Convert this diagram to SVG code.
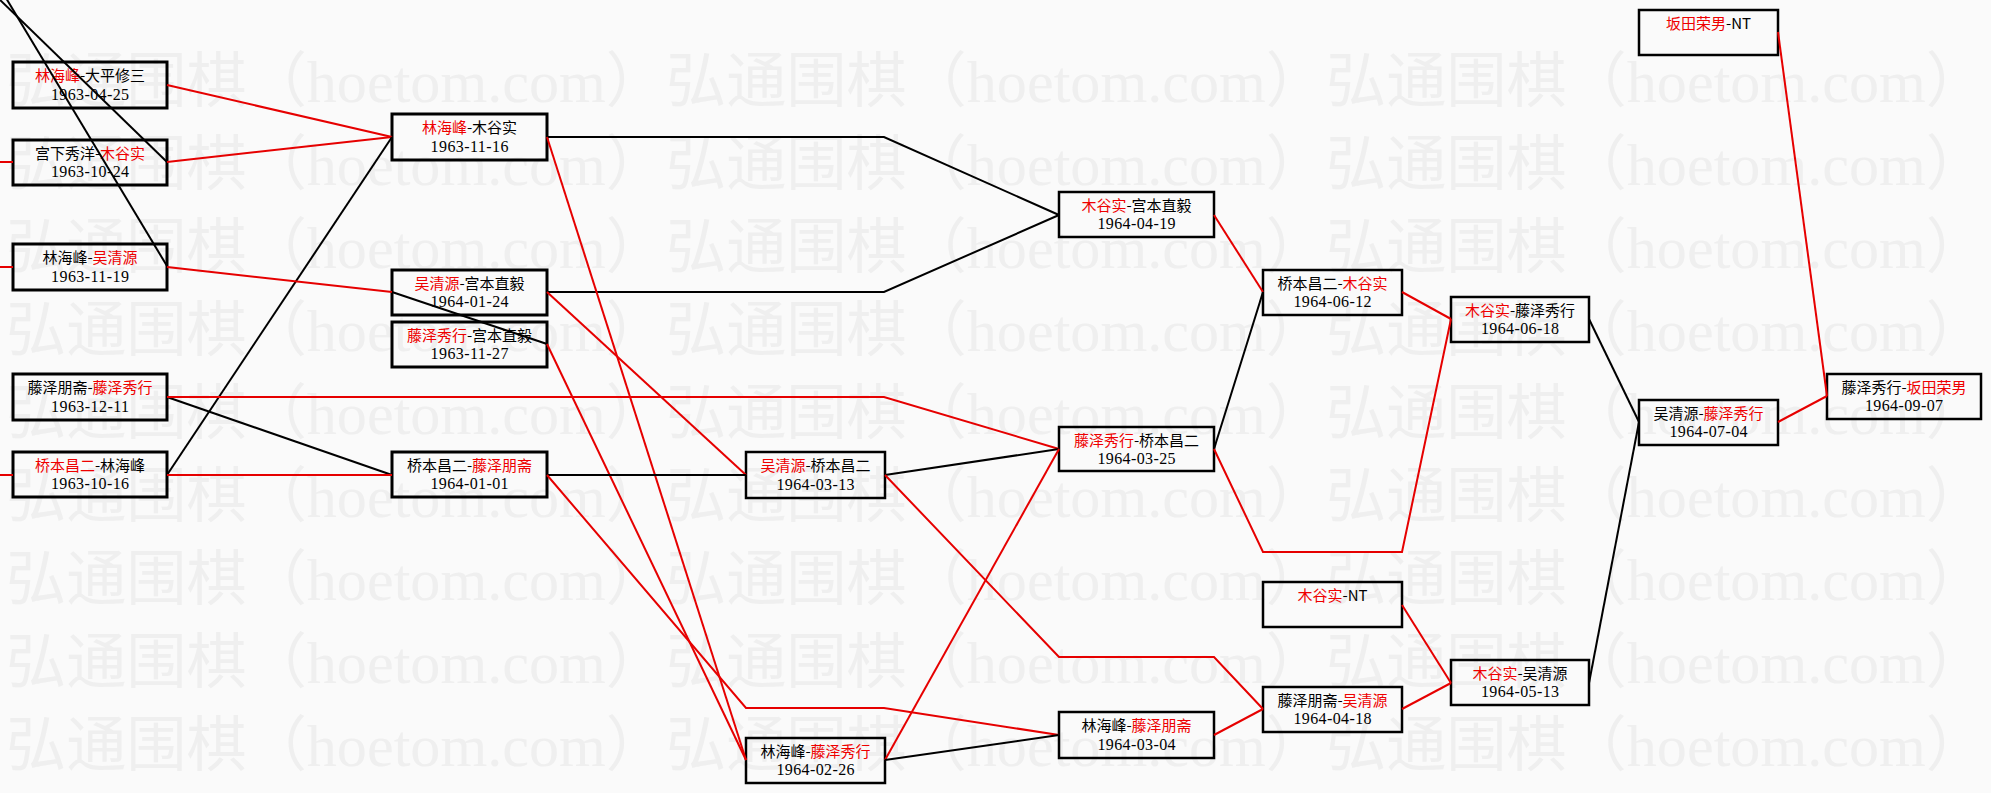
<svg xmlns="http://www.w3.org/2000/svg" width="1991" height="793" viewBox="0 0 1991 793">
<style>
.bg{fill:#fafafa}
.wm{font-family:"Liberation Serif","Noto Sans CJK SC",serif;font-size:60px;fill:#efefef}
.box{fill:none;stroke:#000;stroke-width:3}
.box2{fill:none;stroke:#000;stroke-width:2.5}
.t1{font-family:"Noto Sans CJK SC","Noto Sans",sans-serif;font-size:15px;fill:#000;text-anchor:middle}
.t2{font-family:"Liberation Serif",serif;font-size:16px;fill:#000;text-anchor:middle}
.r{fill:#ee0000}
.cr{fill:none;stroke:#e60000;stroke-width:2}
.cb{fill:none;stroke:#000;stroke-width:2}
</style>
<rect class="bg" x="0" y="0" width="1991" height="793"/>
<g id="watermark">
<text class="wm" x="6" y="102" textLength="1980" lengthAdjust="spacingAndGlyphs">弘通围棋（hoetom.com）弘通围棋（hoetom.com）弘通围棋（hoetom.com）</text>
<text class="wm" x="6" y="185" textLength="1980" lengthAdjust="spacingAndGlyphs">弘通围棋（hoetom.com）弘通围棋（hoetom.com）弘通围棋（hoetom.com）</text>
<text class="wm" x="6" y="268" textLength="1980" lengthAdjust="spacingAndGlyphs">弘通围棋（hoetom.com）弘通围棋（hoetom.com）弘通围棋（hoetom.com）</text>
<text class="wm" x="6" y="351" textLength="1980" lengthAdjust="spacingAndGlyphs">弘通围棋（hoetom.com）弘通围棋（hoetom.com）弘通围棋（hoetom.com）</text>
<text class="wm" x="6" y="434" textLength="1980" lengthAdjust="spacingAndGlyphs">弘通围棋（hoetom.com）弘通围棋（hoetom.com）弘通围棋（hoetom.com）</text>
<text class="wm" x="6" y="517" textLength="1980" lengthAdjust="spacingAndGlyphs">弘通围棋（hoetom.com）弘通围棋（hoetom.com）弘通围棋（hoetom.com）</text>
<text class="wm" x="6" y="600" textLength="1980" lengthAdjust="spacingAndGlyphs">弘通围棋（hoetom.com）弘通围棋（hoetom.com）弘通围棋（hoetom.com）</text>
<text class="wm" x="6" y="683" textLength="1980" lengthAdjust="spacingAndGlyphs">弘通围棋（hoetom.com）弘通围棋（hoetom.com）弘通围棋（hoetom.com）</text>
<text class="wm" x="6" y="766" textLength="1980" lengthAdjust="spacingAndGlyphs">弘通围棋（hoetom.com）弘通围棋（hoetom.com）弘通围棋（hoetom.com）</text>
</g>

<g id="nA"><rect class="box" x="13" y="62" width="154" height="46"/><text class="t1" x="90" y="81"><tspan class="r">林海峰</tspan>-大平修三</text><text class="t2" x="90" y="100" textLength="78">1963-04-25</text></g>
<g id="nB"><rect class="box" x="13" y="140" width="154" height="45"/><text class="t1" x="90" y="159">宫下秀洋-<tspan class="r">木谷实</tspan></text><text class="t2" x="90" y="177" textLength="78">1963-10-24</text></g>
<g id="nC"><rect class="box" x="13" y="244" width="154" height="46"/><text class="t1" x="90" y="263">林海峰-<tspan class="r">吴清源</tspan></text><text class="t2" x="90" y="282" textLength="78">1963-11-19</text></g>
<g id="nD"><rect class="box" x="13" y="374" width="154" height="46"/><text class="t1" x="90" y="393">藤泽朋斋-<tspan class="r">藤泽秀行</tspan></text><text class="t2" x="90" y="412" textLength="78">1963-12-11</text></g>
<g id="nE"><rect class="box" x="13" y="452" width="154" height="45"/><text class="t1" x="90" y="471"><tspan class="r">桥本昌二</tspan>-林海峰</text><text class="t2" x="90" y="489" textLength="78">1963-10-16</text></g>

<g id="nF"><rect class="box" x="392" y="114" width="155" height="46"/><text class="t1" x="469.5" y="133"><tspan class="r">林海峰</tspan>-木谷实</text><text class="t2" x="469.5" y="152" textLength="78">1963-11-16</text></g>
<g id="nG"><rect class="box" x="392" y="270" width="155" height="45"/><text class="t1" x="469.5" y="289"><tspan class="r">吴清源</tspan>-宫本直毅</text><text class="t2" x="469.5" y="307" textLength="78">1964-01-24</text></g>
<g id="nH"><rect class="box" x="392" y="322" width="155" height="45"/><text class="t1" x="469.5" y="341"><tspan class="r">藤泽秀行</tspan>-宫本直毅</text><text class="t2" x="469.5" y="359" textLength="78">1963-11-27</text></g>
<g id="nI"><rect class="box" x="392" y="452" width="155" height="45"/><text class="t1" x="469.5" y="471">桥本昌二-<tspan class="r">藤泽朋斋</tspan></text><text class="t2" x="469.5" y="489" textLength="78">1964-01-01</text></g>

<g id="nJ"><rect class="box2" x="746" y="452" width="139" height="46"/><text class="t1" x="815.5" y="471"><tspan class="r">吴清源</tspan>-桥本昌二</text><text class="t2" x="815.5" y="490" textLength="78">1964-03-13</text></g>
<g id="nK"><rect class="box2" x="746" y="738" width="139" height="45"/><text class="t1" x="815.5" y="757">林海峰-<tspan class="r">藤泽秀行</tspan></text><text class="t2" x="815.5" y="775" textLength="78">1964-02-26</text></g>

<g id="nL"><rect class="box2" x="1059" y="192" width="155" height="45"/><text class="t1" x="1136.5" y="211"><tspan class="r">木谷实</tspan>-宫本直毅</text><text class="t2" x="1136.5" y="229" textLength="78">1964-04-19</text></g>
<g id="nM"><rect class="box2" x="1059" y="427" width="155" height="44"/><text class="t1" x="1136.5" y="446"><tspan class="r">藤泽秀行</tspan>-桥本昌二</text><text class="t2" x="1136.5" y="464" textLength="78">1964-03-25</text></g>
<g id="nN"><rect class="box2" x="1059" y="712" width="155" height="46"/><text class="t1" x="1136.5" y="731">林海峰-<tspan class="r">藤泽朋斋</tspan></text><text class="t2" x="1136.5" y="750" textLength="78">1964-03-04</text></g>

<g id="nO"><rect class="box2" x="1263" y="270" width="139" height="45"/><text class="t1" x="1332.5" y="289">桥本昌二-<tspan class="r">木谷实</tspan></text><text class="t2" x="1332.5" y="307" textLength="78">1964-06-12</text></g>
<g id="nP"><rect class="box2" x="1263" y="582" width="139" height="45"/><text class="t1" x="1332.5" y="601"><tspan class="r">木谷实</tspan>-NT</text></g>
<g id="nQ"><rect class="box2" x="1263" y="687" width="139" height="45"/><text class="t1" x="1332.5" y="706">藤泽朋斋-<tspan class="r">吴清源</tspan></text><text class="t2" x="1332.5" y="724" textLength="78">1964-04-18</text></g>

<g id="nR"><rect class="box2" x="1451" y="297" width="138" height="45"/><text class="t1" x="1520" y="316"><tspan class="r">木谷实</tspan>-藤泽秀行</text><text class="t2" x="1520" y="334" textLength="78">1964-06-18</text></g>
<g id="nS"><rect class="box2" x="1451" y="660" width="138" height="45"/><text class="t1" x="1520" y="679"><tspan class="r">木谷实</tspan>-吴清源</text><text class="t2" x="1520" y="697" textLength="78">1964-05-13</text></g>

<g id="nT"><rect class="box2" x="1639" y="10" width="139" height="45"/><text class="t1" x="1708.5" y="29"><tspan class="r">坂田荣男</tspan>-NT</text></g>
<g id="nU"><rect class="box2" x="1639" y="400" width="139" height="45"/><text class="t1" x="1708.5" y="419">吴清源-<tspan class="r">藤泽秀行</tspan></text><text class="t2" x="1708.5" y="437" textLength="78">1964-07-04</text></g>

<g id="nV"><rect class="box2" x="1827" y="374" width="154" height="45"/><text class="t1" x="1904" y="393">藤泽秀行-<tspan class="r">坂田荣男</tspan></text><text class="t2" x="1904" y="411" textLength="78">1964-09-07</text></g>

<g id="connectors">
<path class="cb" d="M-3,-3 L167,162"/>
<path class="cb" d="M6,-2 L167,266"/>
<path class="cr" d="M0,162 L13,162"/>
<path class="cr" d="M0,267 L13,267"/>
<path class="cr" d="M0,475 L13,475"/>
<path class="cr" d="M167,85 L392,137"/>
<path class="cr" d="M167,162 L392,137"/>
<path class="cb" d="M167,475 L392,137"/>
<path class="cr" d="M167,267 L392,292"/>
<path class="cb" d="M392,292 L547,344"/>
<path class="cb" d="M167,397 L392,475"/>
<path class="cr" d="M167,475 L392,475"/>
<path class="cr" d="M167,397 L884,397 L1059,449"/>
<path class="cb" d="M547,137 L884,137 L1059,215"/>
<path class="cb" d="M547,292 L884,292 L1059,215"/>
<path class="cr" d="M547,137 L746,760"/>
<path class="cr" d="M547,344 L746,760"/>
<path class="cr" d="M547,292 L746,475"/>
<path class="cb" d="M547,475 L746,475"/>
<path class="cr" d="M547,475 L746,708 L884,708 L1059,735"/>
<path class="cb" d="M885,475 L1059,449"/>
<path class="cr" d="M885,760 L1059,449"/>
<path class="cb" d="M885,760 L1059,735"/>
<path class="cr" d="M885,475 L1059,657 L1214,657 L1263,709"/>
<path class="cr" d="M1214,215 L1263,292"/>
<path class="cb" d="M1214,449 L1263,292"/>
<path class="cr" d="M1214,449 L1263,552 L1402,552 L1451,319"/>
<path class="cr" d="M1214,735 L1263,709"/>
<path class="cr" d="M1402,292 L1451,319"/>
<path class="cr" d="M1402,605 L1451,683"/>
<path class="cr" d="M1402,709 L1451,683"/>
<path class="cb" d="M1589,319 L1639,422"/>
<path class="cb" d="M1589,683 L1639,422"/>
<path class="cr" d="M1778,422 L1827,396"/>
<path class="cr" d="M1778,32 L1827,396"/>
</g>
</svg>
